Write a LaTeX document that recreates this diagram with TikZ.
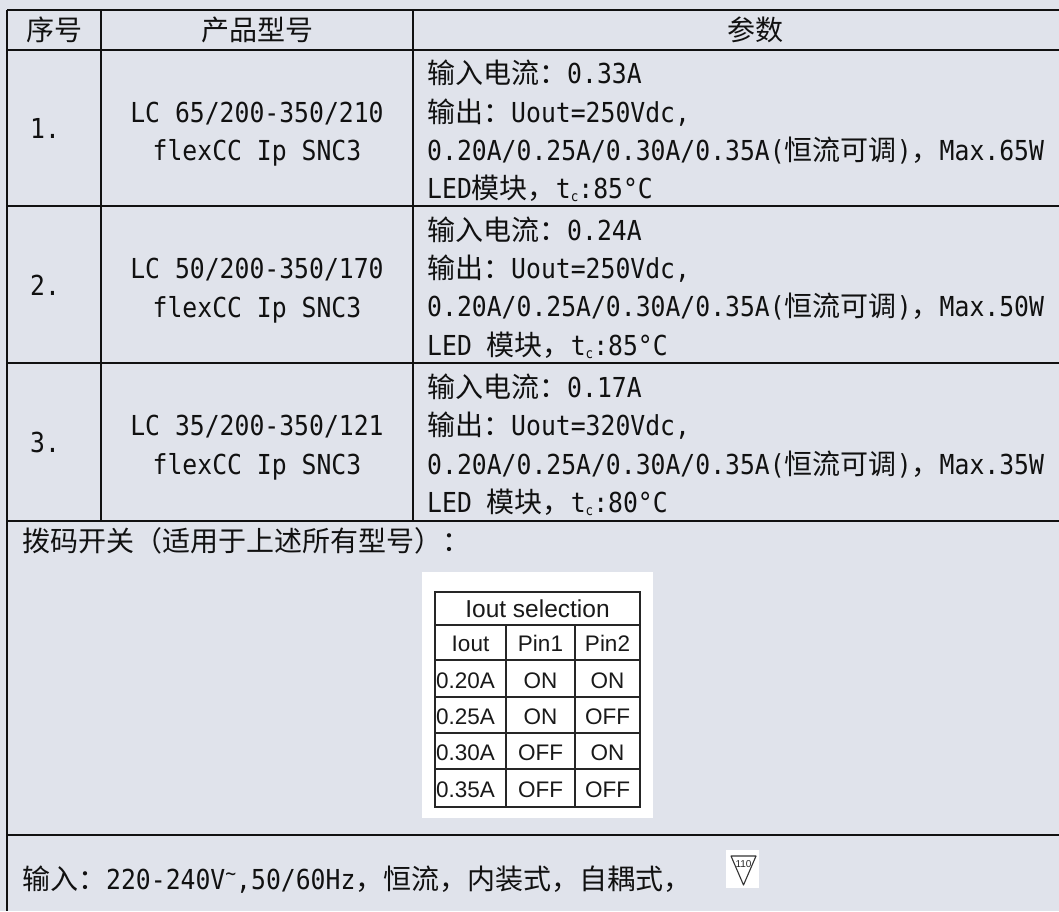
\documentclass[tikz,border=0pt]{standalone}
\usepackage{fontspec}
\setmainfont{Noto Sans CJK SC}
\newfontfamily\latfam[FakeStretch=0.9]{DejaVu Sans Mono}
\newfontfamily\arlfam{Liberation Sans}
\newcommand\latxt[1]{{\fontsize{27.5}{30}\latfam #1}}
\definecolor{bgc}{RGB}{224,227,235}
\definecolor{ink}{RGB}{17,17,17}
\begin{document}
\begin{tikzpicture}[x=1pt,y=-1pt,
  gridline/.style={line width=2pt, draw=ink},
  thin grid/.style={line width=1.4pt, draw=black!85},
  txt/.style={font=\fontsize{28}{30}\selectfont, text=ink, inner sep=0pt},
  ctxt/.style={txt, anchor=base},
  ltxt/.style={txt, anchor=base west},
  atxt/.style={font=\fontsize{22.5}{25}\arlfam, text=black!90, inner sep=0pt, anchor=base},
  altxt/.style={atxt, anchor=base west}]
\useasboundingbox (0,0) rectangle (1059,911);
\fill[bgc] (0,0) rectangle (1059,911);

% main table grid
\draw[gridline] (7,10) -- (1059,10);
\draw[gridline] (7,50) -- (1059,50);
\draw[gridline] (7,206) -- (1059,206);
\draw[gridline] (7,363) -- (1059,363);
\draw[gridline] (7,521) -- (1059,521);
\draw[gridline] (7,835) -- (1059,835);
\draw[gridline] (7,10) -- (7,911);
\draw[gridline] (101,10) -- (101,521);
\draw[gridline] (413,10) -- (413,521);

% header
\node[ctxt] (h1) at (54,40) {序号};
\node[ctxt] (h2) at (257,40) {产品型号};
\node[ctxt] (h3) at (755,40) {参数};

% row numbers
\node[ltxt] (n1) at (30,138) {\latxt{1.}};
\node[ltxt] (n2) at (30,295) {\latxt{2.}};
\node[ltxt] (n3) at (30,452) {\latxt{3.}};

% models
\node[ctxt] (m1a) at (257,122) {\latxt{LC 65/200-350/210}};
\node[ctxt] (m1b) at (257,160) {\latxt{flexCC Ip SNC3}};
\node[ctxt] (m2a) at (257,278) {\latxt{LC 50/200-350/170}};
\node[ctxt] (m2b) at (257,317) {\latxt{flexCC Ip SNC3}};
\node[ctxt] (m3a) at (257,435) {\latxt{LC 35/200-350/121}};
\node[ctxt] (m3b) at (257,474) {\latxt{flexCC Ip SNC3}};

% parameters row 1
\node[ltxt] (p1a) at (427,83) {输入电流：\latxt{0.33A}};
\node[ltxt] (p1b) at (427,122) {输出：\latxt{Uout=250Vdc,}};
\node[ltxt] (p1c) at (427,160) {\latxt{0.20A/0.25A/0.30A/0.35A(}恒流可调\latxt{)}，\latxt{Max.65W}};
\node[ltxt] (p1d) at (427,198) {\latxt{LED}模块，\latxt{t\raisebox{-3pt}{\fontsize{14}{14}\latfam c}:85°C}};

% parameters row 2
\node[ltxt] (p2a) at (427,240) {输入电流：\latxt{0.24A}};
\node[ltxt] (p2b) at (427,278) {输出：\latxt{Uout=250Vdc,}};
\node[ltxt] (p2c) at (427,316) {\latxt{0.20A/0.25A/0.30A/0.35A(}恒流可调\latxt{)}，\latxt{Max.50W}};
\node[ltxt] (p2d) at (427,355) {\latxt{LED }模块，\latxt{t\raisebox{-3pt}{\fontsize{14}{14}\latfam c}:85°C}};

% parameters row 3
\node[ltxt] (p3a) at (427,397) {输入电流：\latxt{0.17A}};
\node[ltxt] (p3b) at (427,435) {输出：\latxt{Uout=320Vdc,}};
\node[ltxt] (p3c) at (427,474) {\latxt{0.20A/0.25A/0.30A/0.35A(}恒流可调\latxt{)}，\latxt{Max.35W}};
\node[ltxt] (p3d) at (427,512) {\latxt{LED }模块，\latxt{t\raisebox{-3pt}{\fontsize{14}{14}\latfam c}:80°C}};

% DIP switch section
\node[ltxt] (dip) at (22,551) {拨码开关（适用于上述所有型号）：};

\fill[white] (422,572) rectangle (653,818);
\draw[thin grid] (435,592) rectangle (640,807);
\foreach \yy in {625,660,697,733,769} \draw[thin grid] (435,\yy) -- (640,\yy);
\draw[thin grid] (506,625) -- (506,807);
\draw[thin grid] (575,625) -- (575,807);

\node[atxt, font=\fontsize{24.5}{27}\arlfam] (sel) at (537.5,617) {Iout selection};
\node[atxt] (c00) at (470.5,651) {Iout};
\node[atxt] (c01) at (540.5,651) {Pin1};
\node[atxt] (c02) at (607.5,651) {Pin2};
\node[altxt] (c10) at (436,688) {0.20A};
\node[atxt] (c11) at (540.5,688) {ON};
\node[atxt] (c12) at (607.5,688) {ON};
\node[altxt] (c20) at (436,724) {0.25A};
\node[atxt] (c21) at (540.5,724) {ON};
\node[atxt] (c22) at (607.5,724) {OFF};
\node[altxt] (c30) at (436,760) {0.30A};
\node[atxt] (c31) at (540.5,760) {OFF};
\node[atxt] (c32) at (607.5,760) {ON};
\node[altxt] (c40) at (436,797) {0.35A};
\node[atxt] (c41) at (540.5,797) {OFF};
\node[atxt] (c42) at (607.5,797) {OFF};

% input line
\node[ltxt] (inp) at (22,889) {输入：\latxt{220-240V\raisebox{9pt}{\fontsize{20}{20}\latfam\char126},50/60Hz}，恒流，内装式，自耦式，};

% 110 triangle mark
\fill[white] (726,850) rectangle (759,888);
\draw[line width=1.1pt, black!80, line join=round] (731,856) -- (756,856) -- (743.5,885) -- cycle;
\node[font=\fontsize{10}{11}\arlfam, inner sep=0pt, text=black!85] (mk) at (743.5,864) {110};
\end{tikzpicture}
\end{document}
